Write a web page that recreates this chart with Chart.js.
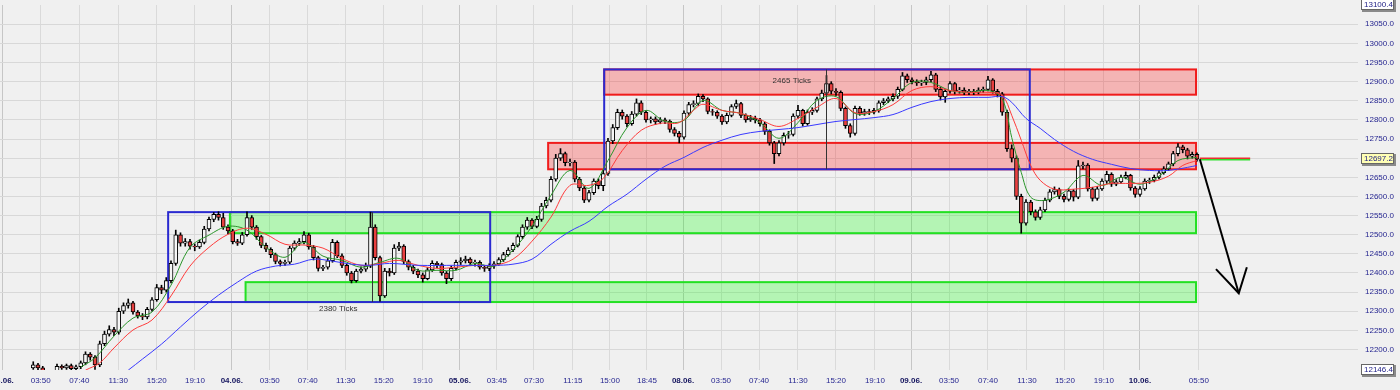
<!DOCTYPE html>
<html>
<head>
<meta charset="utf-8">
<script src="https://cdn.jsdelivr.net/npm/chart.js@4.4.1/dist/chart.umd.min.js"></script>
<style>
  html, body { margin: 0; padding: 0; background: #f0f0f0; overflow: hidden; }
  canvas { display: block; }
</style>
</head>
<body>
<canvas id="chart" width="1400" height="390"></canvas>
<script>
// bars are numbered from the left edge, first drawn bar is 7
var firstBar = 7;
var firstOpen = 12152;
var closes = [
  12160, 12152, 12140, 12130, 12138, 12156, 12152, 12158, 12150, 12155,
  12165, 12188, 12180, 12160, 12215, 12240, 12252, 12245, 12300, 12315,
  12322, 12298, 12288, 12285, 12305, 12330, 12362, 12355, 12380, 12425,
  12500, 12478, 12482, 12470, 12468, 12480, 12515, 12540, 12553, 12545,
  12520, 12510, 12482, 12478, 12500, 12545, 12520, 12495, 12472, 12462,
  12448, 12430, 12425, 12428, 12465, 12478, 12482, 12500, 12468, 12440,
  12412, 12415, 12432, 12480, 12445, 12420, 12400, 12380, 12405, 12410,
  12418, 12520, 12440, 12340, 12405, 12400, 12465, 12470, 12430, 12415,
  12405, 12395, 12385, 12408, 12425, 12422, 12400, 12385, 12412, 12428,
  12432, 12436, 12426, 12428, 12415, 12412, 12418, 12424, 12435, 12448,
  12460, 12472, 12495, 12520, 12538, 12522, 12540, 12575, 12590, 12645,
  12700, 12712, 12688, 12690, 12645, 12622, 12590, 12610, 12640, 12628,
  12660, 12745, 12780, 12820, 12810, 12790, 12815, 12845, 12820, 12800,
  12803, 12795, 12800, 12797, 12775, 12765, 12755, 12818, 12840, 12843,
  12862, 12855, 12822, 12820, 12810, 12795, 12812, 12835, 12843, 12812,
  12800, 12805, 12800, 12790, 12770, 12740, 12712, 12740, 12760, 12762,
  12810, 12825, 12790, 12820, 12825, 12855, 12870, 12895, 12875, 12872,
  12830, 12785, 12765, 12830, 12818, 12822, 12820, 12825, 12845, 12850,
  12855, 12862, 12880, 12915, 12905, 12900, 12897, 12898, 12905, 12918,
  12880, 12860, 12875, 12895, 12875, 12878, 12872, 12875, 12872, 12878,
  12880, 12905, 12875, 12868, 12820, 12725, 12700, 12600, 12530, 12585,
  12560, 12545, 12565, 12590, 12612, 12618, 12600, 12592, 12615, 12598,
  12680, 12682, 12620, 12595, 12620, 12640, 12658, 12632, 12638, 12650,
  12655, 12622, 12605, 12620, 12640, 12642, 12650, 12662, 12672, 12685,
  12712, 12730, 12722, 12705, 12710, 12697.2
];
var highs = [
  12168, 12164, 12156, 12144, 12142, 12162, 12160, 12162, 12162, 12159,
  12170, 12194, 12192, 12184, 12222, 12248, 12262, 12258, 12308, 12322,
  12332, 12326, 12302, 12294, 12310, 12336, 12370, 12368, 12388, 12432,
  12512, 12505, 12490, 12488, 12476, 12486, 12522, 12546, 12558, 12560,
  12556, 12526, 12514, 12488, 12506, 12560, 12550, 12524, 12498, 12478,
  12466, 12452, 12434, 12434, 12470, 12484, 12490, 12508, 12504, 12472,
  12444, 12420, 12438, 12488, 12484, 12450, 12424, 12404, 12410, 12416,
  12426, 12559, 12526, 12444, 12412, 12412, 12474, 12480, 12474, 12434,
  12420, 12410, 12400, 12414, 12432, 12430, 12426, 12404, 12418, 12434,
  12440, 12444, 12440, 12434, 12432, 12420, 12424, 12430, 12440, 12454,
  12466, 12478, 12500, 12526, 12545, 12542, 12548, 12582, 12598, 12652,
  12710, 12725, 12716, 12698, 12694, 12650, 12626, 12616, 12646, 12646,
  12668, 12752, 12788, 12828, 12826, 12814, 12822, 12855, 12850, 12824,
  12808, 12808, 12806, 12805, 12800, 12780, 12770, 12824, 12846, 12850,
  12868, 12866, 12858, 12828, 12824, 12814, 12818, 12840, 12852, 12846,
  12816, 12812, 12810, 12804, 12794, 12774, 12744, 12746, 12766, 12770,
  12816, 12838, 12828, 12826, 12832, 12860, 12878, 12916, 12900, 12882,
  12876, 12834, 12790, 12836, 12835, 12828, 12828, 12830, 12850, 12856,
  12860, 12868, 12886, 12924, 12920, 12910, 12905, 12904, 12912, 12927,
  12922, 12886, 12880, 12900, 12898, 12885, 12884, 12880, 12880, 12884,
  12886, 12914, 12908, 12880, 12872, 12826, 12735, 12706, 12606, 12592,
  12590, 12565, 12572, 12596, 12618, 12625, 12622, 12606, 12620, 12618,
  12694, 12690, 12686, 12624, 12626, 12646, 12666, 12662, 12644, 12656,
  12664, 12658, 12626, 12626, 12646, 12648, 12656, 12668, 12678, 12690,
  12718, 12738, 12734, 12726, 12716, 12714
];
var lows = [
  12148, 12146, 12134, 12124, 12126, 12134, 12148, 12148, 12146, 12146,
  12150, 12160, 12172, 12148, 12155, 12210, 12235, 12236, 12240, 12294,
  12308, 12292, 12282, 12278, 12280, 12300, 12326, 12346, 12350, 12374,
  12420, 12470, 12470, 12462, 12458, 12464, 12476, 12510, 12534, 12538,
  12514, 12502, 12476, 12472, 12474, 12496, 12514, 12488, 12466, 12456,
  12440, 12424, 12418, 12420, 12424, 12460, 12472, 12476, 12462, 12434,
  12405, 12406, 12410, 12428, 12440, 12414, 12394, 12374, 12376, 12400,
  12404, 12414, 12434, 12326, 12336, 12392, 12396, 12458, 12424, 12408,
  12398, 12388, 12376, 12382, 12404, 12414, 12394, 12372, 12380, 12408,
  12422, 12426, 12420, 12418, 12410, 12404, 12406, 12412, 12420, 12430,
  12444, 12456, 12468, 12490, 12514, 12516, 12518, 12535, 12570, 12586,
  12640, 12694, 12680, 12680, 12638, 12615, 12584, 12586, 12605, 12620,
  12615, 12655, 12738, 12775, 12802, 12782, 12786, 12810, 12814, 12794,
  12792, 12788, 12790, 12790, 12768, 12758, 12740, 12750, 12812, 12834,
  12838, 12848, 12816, 12812, 12804, 12788, 12790, 12808, 12830, 12806,
  12794, 12796, 12792, 12784, 12762, 12734, 12686, 12706, 12734, 12752,
  12758, 12804, 12784, 12786, 12814, 12820, 12850, 12866, 12868, 12864,
  12824, 12778, 12755, 12760, 12812, 12812, 12814, 12816, 12820, 12840,
  12845, 12850, 12856, 12876, 12898, 12894, 12890, 12890, 12892, 12900,
  12874, 12852, 12846, 12870, 12868, 12870, 12866, 12866, 12866, 12868,
  12872, 12876, 12870, 12860, 12812, 12718, 12690, 12592, 12504, 12525,
  12552, 12538, 12540, 12560, 12586, 12606, 12594, 12586, 12588, 12588,
  12594, 12672, 12614, 12588, 12590, 12616, 12634, 12626, 12628, 12634,
  12646, 12616, 12598, 12600, 12616, 12634, 12638, 12646, 12658, 12668,
  12680, 12706, 12714, 12698, 12700, 12692
];

// moving averages at these bars
var greenX = [17, 20, 24, 28, 32, 36, 40, 44, 48, 52, 56, 60, 64, 68, 72, 76, 80, 84, 88, 92, 96, 100, 104, 108, 112, 116, 120, 124, 128, 132, 136, 140, 144, 148, 152, 156, 160, 164, 168, 172, 176, 180, 184, 188, 192, 196, 200, 204, 208, 211, 213, 215, 217, 220, 224, 228, 232, 236, 240, 244, 248, 252];
var greenY = [12154, 12178, 12235, 12282, 12298, 12368, 12467, 12499, 12522, 12512, 12467, 12441, 12480, 12444, 12433, 12415, 12428, 12438, 12407, 12407, 12407, 12425, 12418, 12460, 12522, 12603, 12668, 12621, 12694, 12780, 12825, 12796, 12799, 12851, 12825, 12817, 12793, 12752, 12793, 12851, 12861, 12817, 12822, 12856, 12898, 12898, 12877, 12872, 12877, 12855, 12754, 12663, 12598, 12590, 12611, 12655, 12629, 12650, 12632, 12653, 12694, 12702];
var redX = [18, 21, 24, 28, 32, 36, 40, 44, 48, 52, 56, 60, 64, 68, 72, 76, 80, 84, 88, 92, 96, 100, 104, 108, 112, 116, 120, 124, 127, 131, 135, 139, 143, 146, 148, 152, 156, 160, 164, 168, 172, 176, 180, 184, 188, 192, 196, 200, 204, 208, 211, 213, 215, 217, 219, 222, 226, 230, 234, 238, 242, 246, 249, 252];
var redY = [12146, 12165, 12204, 12251, 12277, 12340, 12418, 12467, 12501, 12517, 12501, 12475, 12473, 12465, 12438, 12420, 12425, 12433, 12420, 12412, 12415, 12420, 12420, 12436, 12483, 12546, 12629, 12629, 12647, 12720, 12773, 12791, 12793, 12825, 12841, 12825, 12817, 12801, 12783, 12804, 12833, 12856, 12819, 12822, 12840, 12877, 12887, 12877, 12872, 12872, 12864, 12812, 12747, 12681, 12642, 12619, 12619, 12624, 12634, 12634, 12637, 12653, 12681, 12694];
var blueX = [27, 30, 34, 38, 42, 46, 50, 54, 58, 62, 66, 70, 74, 78, 82, 88, 96, 104, 108, 112, 116, 120, 124, 128, 132, 136, 140, 144, 148, 152, 156, 160, 164, 168, 172, 176, 180, 184, 188, 192, 196, 200, 204, 208, 211, 213, 216, 219, 222, 226, 230, 234, 238, 242, 246, 250, 252];
var blueY = [12146, 12175, 12214, 12259, 12303, 12342, 12376, 12405, 12418, 12423, 12436, 12431, 12423, 12420, 12425, 12420, 12420, 12420, 12423, 12436, 12475, 12509, 12535, 12574, 12606, 12645, 12679, 12702, 12728, 12747, 12762, 12770, 12775, 12780, 12788, 12796, 12801, 12806, 12814, 12833, 12848, 12856, 12859, 12859, 12861, 12846, 12804, 12778, 12749, 12718, 12697, 12684, 12673, 12668, 12668, 12676, 12681];

var tickBars = [0.57, 8.57, 16.7, 24.9, 33.0, 41.05, 48.8, 56.8, 64.8, 72.8, 80.8, 89.0, 96.8, 104.6, 112.4, 120.6, 128.4, 136.2, 143.8, 151.8, 159.8, 168.0, 176.0, 184.2, 191.8, 199.8, 208.0, 216.2, 224.2, 232.4, 240.0, 252.4];
var tickLabels = ['03.06.', '03:50', '07:40', '11:30', '15:20', '19:10', '04.06.', '03:50', '07:40', '11:30', '15:20', '19:10', '05.06.', '03:45', '07:30', '11:15', '15:00', '18:45', '08.06.', '03:50', '07:40', '11:30', '15:20', '19:10', '09.06.', '03:50', '07:40', '11:30', '15:20', '19:10', '10.06.', '05:50'];
var yTicks = [12200, 12250, 12300, 12350, 12400, 12450, 12500, 12550, 12600, 12650, 12700, 12750, 12800, 12850, 12900, 12950, 13000, 13050];
var yMin = 12146.4, yMax = 13100.4, lastPrice = 12697.2;
var xMax = 285.9;

// zones: [fromBar, toBar, top, bottom]
var supplyZones = [[127.2, 251.8, 12932, 12866], [115.4, 251.8, 12740, 12671]];
var demandZones = [[48.4, 251.8, 12559, 12504], [51.7, 251.8, 12376, 12324]];
// range boxes: [fromBar, toBar, top, bottom, dividerBar]
var rangeBoxes = [[35.4, 103.2, 12559, 12324, 78.3], [127.2, 216.8, 12932, 12671, 173.8]];
var boxLabels = [['2380 Ticks', 71.2, 12306], ['2465 Ticks', 166.7, 12903]];
var arrowLine = [[252.6, 12697], [260.8, 12347]];
var arrowHead = [[256.0, 12410], [260.8, 12347], [262.5, 12415]];
var priceLineEnd = 263.2;

var bodies = closes.map(function (c, k) {
    return { x: firstBar + k, y: [k ? closes[k - 1] : firstOpen, c] };
});
var wicks = closes.map(function (c, k) {
    return { x: firstBar + k, y: [lows[k], highs[k]] };
});
function pts(xs, ys) {
    return xs.map(function (x, k) { return { x: x, y: ys[k] }; });
}

var FONT = "'Liberation Sans', Arial, sans-serif";

var overlay = {
    id: 'overlay',
    beforeDraw: function (chart) {
        var c = chart.ctx;
        c.save();
        c.fillStyle = '#f0f0f0';
        c.fillRect(0, 0, chart.width, chart.height);
        c.restore();
    },
    beforeDatasetsDraw: function (chart) {
        var c = chart.ctx, x = chart.scales.x, y = chart.scales.y;
        function rect(z) {
            var l = x.getPixelForValue(z[0]), r = x.getPixelForValue(z[1]);
            var t = y.getPixelForValue(z[2]), b = y.getPixelForValue(z[3]);
            return [l, t, r - l, b - t];
        }
        c.save();
        c.lineWidth = 2;
        demandZones.forEach(function (z) {
            var q = rect(z);
            c.fillStyle = 'rgba(0,255,0,0.25)';
            c.fillRect(q[0], q[1], q[2], q[3]);
            c.strokeStyle = '#22e022';
            c.strokeRect(q[0], q[1], q[2], q[3]);
        });
        supplyZones.forEach(function (z) {
            var q = rect(z);
            c.fillStyle = 'rgba(255,0,0,0.25)';
            c.fillRect(q[0], q[1], q[2], q[3]);
            c.strokeStyle = '#f01c1c';
            c.strokeRect(q[0], q[1], q[2], q[3]);
        });
        rangeBoxes.forEach(function (z) {
            var q = rect(z);
            c.strokeStyle = '#2a2ad0';
            c.strokeRect(q[0], q[1], q[2], q[3]);
        });
        c.restore();
    },
    afterDatasetsDraw: function (chart) {
        var c = chart.ctx, x = chart.scales.x, y = chart.scales.y;
        c.save();
        // tick count dividers
        c.strokeStyle = '#333';
        c.lineWidth = 1;
        rangeBoxes.forEach(function (z) {
            var px = Math.round(x.getPixelForValue(z[4])) + 0.5;
            c.beginPath();
            c.moveTo(px, y.getPixelForValue(z[2]));
            c.lineTo(px, y.getPixelForValue(z[3]));
            c.stroke();
        });
        c.fillStyle = '#333';
        c.font = '8px ' + FONT;
        c.textAlign = 'center';
        c.textBaseline = 'middle';
        boxLabels.forEach(function (b) {
            c.fillText(b[0], x.getPixelForValue(b[1]), y.getPixelForValue(b[2]));
        });
        // last price line
        var py = y.getPixelForValue(lastPrice);
        var x0 = x.getPixelForValue(arrowLine[0][0]), x1 = x.getPixelForValue(priceLineEnd);
        c.lineWidth = 1.5;
        c.strokeStyle = '#e83030';
        c.beginPath(); c.moveTo(x0, py - 1); c.lineTo(x1, py - 1); c.stroke();
        c.strokeStyle = '#30e030';
        c.beginPath(); c.moveTo(x0, py + 0.6); c.lineTo(x1, py + 0.6); c.stroke();
        // arrow
        c.strokeStyle = '#000';
        c.lineWidth = 2;
        c.beginPath();
        c.moveTo(x.getPixelForValue(arrowLine[0][0]), y.getPixelForValue(arrowLine[0][1]));
        c.lineTo(x.getPixelForValue(arrowLine[1][0]), y.getPixelForValue(arrowLine[1][1]));
        c.stroke();
        c.beginPath();
        arrowHead.forEach(function (p, k) {
            var px = x.getPixelForValue(p[0]), qy = y.getPixelForValue(p[1]);
            if (k) c.lineTo(px, qy); else c.moveTo(px, qy);
        });
        c.stroke();
        c.restore();
    },
    afterDraw: function (chart) {
        var c = chart.ctx, y = chart.scales.y;
        var left = chart.chartArea.right + 3;
        function tag(v, fill) {
            var py = Math.round(y.getPixelForValue(v));
            c.fillStyle = '#8a8a8a';
            c.fillRect(left + 1, py - 5, 34, 12);
            c.fillStyle = fill;
            c.fillRect(left, py - 6, 33, 11);
            c.strokeStyle = '#666';
            c.lineWidth = 1;
            c.strokeRect(left + 0.5, py - 5.5, 32, 10);
            c.fillStyle = '#1c1c84';
            c.font = '8px ' + FONT;
            c.textAlign = 'left';
            c.textBaseline = 'middle';
            c.fillText(v.toFixed(1), left + 3, py);
        }
        c.save();
        tag(yMax, '#ffffff');
        tag(yMin, '#ffffff');
        tag(lastPrice, '#ffffb4');
        c.restore();
    }
};

function isDay(i) { return tickLabels[i] && tickLabels[i].indexOf('.') > 0; }

new Chart(document.getElementById('chart'), {
    data: {
        datasets: [
            { type: 'line', data: pts(blueX, blueY), borderColor: '#3a3aff', borderWidth: 1, pointRadius: 0, tension: 0.35, order: 0 },
            { type: 'line', data: pts(redX, redY), borderColor: '#ff3c3c', borderWidth: 1, pointRadius: 0, tension: 0.35, order: 0 },
            { type: 'line', data: pts(greenX, greenY), borderColor: '#2a962a', borderWidth: 1, pointRadius: 0, tension: 0.35, order: 0 },
            {
                type: 'bar', data: bodies, order: 1, grouped: false, barThickness: 4,
                borderWidth: 1, borderColor: '#000', borderSkipped: false,
                backgroundColor: function (ctx) {
                    var r = ctx.raw;
                    return r && r.y[1] >= r.y[0] ? '#f6f6f6' : '#e84040';
                }
            },
            { type: 'bar', data: wicks, order: 2, grouped: false, barThickness: 1, backgroundColor: '#000', borderWidth: 0 }
        ]
    },
    options: {
        responsive: false,
        animation: false,
        events: [],
        layout: { padding: { top: 5, left: 0, right: 0, bottom: 0 } },
        plugins: { legend: { display: false }, tooltip: { enabled: false } },
        scales: {
            x: {
                type: 'linear', min: 0, max: xMax, offset: false,
                afterBuildTicks: function (s) { s.ticks = tickBars.map(function (v) { return { value: v }; }); },
                afterFit: function (s) { s.height = 20; s.paddingLeft = 0; s.paddingRight = 0; },
                ticks: {
                    autoSkip: false, maxRotation: 0, minRotation: 0, padding: 6,
                    callback: function (v, i) { return tickLabels[i]; },
                    color: function (ctx) { return isDay(ctx.index) ? '#14145e' : '#262690'; },
                    font: function (ctx) { return { family: FONT, size: 8, weight: isDay(ctx.index) ? 'bold' : 'normal' }; }
                },
                grid: {
                    drawTicks: false, lineWidth: 1, offset: false,
                    color: function (ctx) { return isDay(ctx.index) ? '#c6c6c6' : '#dadada'; }
                },
                border: { display: false }
            },
            y: {
                position: 'right', min: yMin, max: yMax,
                afterBuildTicks: function (s) { s.ticks = yTicks.map(function (v) { return { value: v }; }); },
                afterFit: function (s) { s.width = 42; s.paddingTop = 0; s.paddingBottom = 0; },
                ticks: {
                    padding: 7, color: '#262690', font: { family: FONT, size: 8 },
                    callback: function (v) { return Number(v).toFixed(1); }
                },
                grid: { drawTicks: false, color: '#d8d8d8', lineWidth: 1 },
                border: { display: false }
            }
        }
    },
    plugins: [overlay]
});
</script>
</body>
</html>
